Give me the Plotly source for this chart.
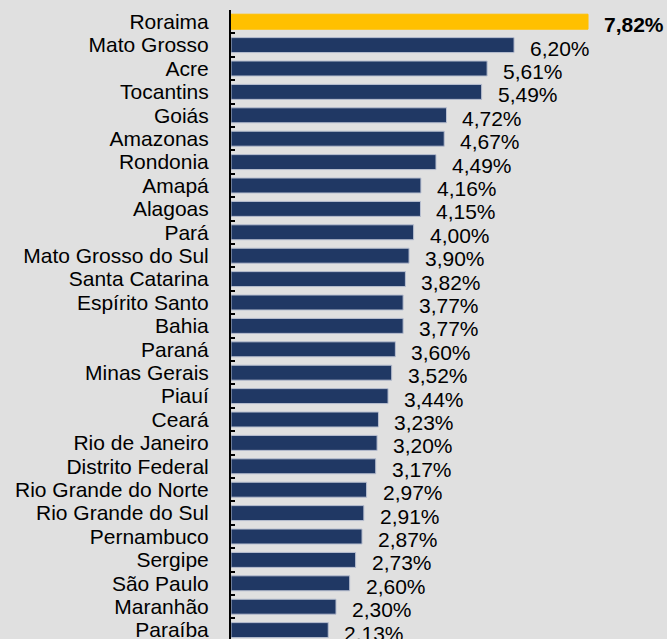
import plotly.graph_objects as go

states = ["Roraima", "Mato Grosso", "Acre", "Tocantins", "Goiás", "Amazonas", "Rondonia",
          "Amapá", "Alagoas", "Pará", "Mato Grosso do Sul", "Santa Catarina", "Espírito Santo",
          "Bahia", "Paraná", "Minas Gerais", "Piauí", "Ceará", "Rio de Janeiro",
          "Distrito Federal", "Rio Grande do Norte", "Rio Grande do Sul", "Pernambuco",
          "Sergipe", "São Paulo", "Maranhão", "Paraíba"]
values = [7.82, 6.20, 5.61, 5.49, 4.72, 4.67, 4.49, 4.16, 4.15, 4.00, 3.90, 3.82, 3.77,
          3.77, 3.60, 3.52, 3.44, 3.23, 3.20, 3.17, 2.97, 2.91, 2.87, 2.73, 2.60, 2.30, 2.13]
highlight = "Roraima"

NAVY = "#203864"
GOLD = "#FFC000"
BG = "#e0e0e0"
FONT = "Liberation Sans, Arial, sans-serif"

colors = [GOLD if s == highlight else NAVY for s in states]
line_colors = [GOLD if s == highlight else "#b8bfd0" for s in states]

fig = go.Figure()
fig.add_trace(go.Bar(
    x=values, y=states, orientation="h",
    marker=dict(color=colors, line=dict(color=line_colors, width=1)),
    width=0.64, hoverinfo="skip",
))

for s, v in zip(states, values):
    txt = f"{v:.2f}".replace(".", ",") + "%"
    if s == highlight:
        txt = f"<b>{txt}</b>"
    fig.add_annotation(x=v, y=s, text=txt, showarrow=False, xanchor="left",
                       yanchor="middle", xshift=14, yshift=-3,
                       font=dict(family=FONT, size=21, color="black"))

fig.update_layout(
    width=667, height=639,
    margin=dict(l=231, r=0, t=10, b=0),
    paper_bgcolor=BG, plot_bgcolor=BG,
    showlegend=False,
    font=dict(family=FONT, size=21, color="black"),
)
fig.update_xaxes(range=[0, 9.55], visible=False, showgrid=False, zeroline=False)
fig.update_yaxes(
    type="category", categoryorder="array", categoryarray=states,
    range=[26.38, -0.5], automargin=False,
    tickmode="linear", tick0=0, dtick=1,
    showline=True, linecolor="black", linewidth=2,
    ticks="inside", ticklen=4, tickwidth=1.5, tickcolor="black",
    tickson="boundaries", showgrid=False, zeroline=False,
    tickfont=dict(family=FONT, size=21, color="black"),
    ticklabelstandoff=16,
)

fig.write_html("out.html", config={"displayModeBar": False},
               post_script="document.body.style.margin='0';document.body.style.overflow='hidden';")
